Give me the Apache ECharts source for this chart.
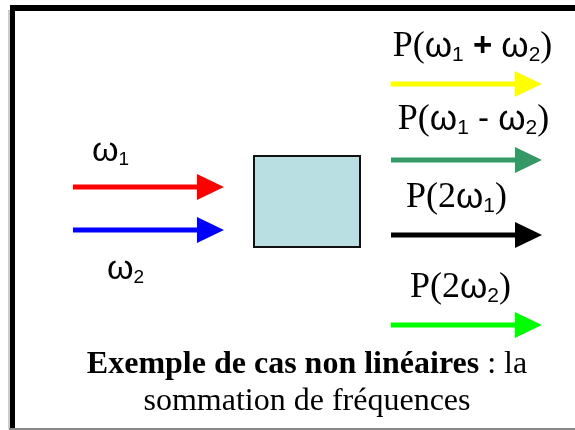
<!DOCTYPE html>
<html>
<head>
<meta charset="utf-8">
<script src="https://cdn.jsdelivr.net/npm/echarts@6/dist/echarts.min.js"></script>
<style>
  html, body { margin: 0; padding: 0; background: #fff; }
  #main { width: 575px; height: 430px; }
</style>
</head>
<body>
<div id="main"></div>
<script>
// arrows: two inputs on the left, four outputs on the right
const arrowStartX = [73, 73, 391, 391, 391, 391];
const arrowEndX = [224, 224, 542, 542, 542, 542];
const arrowY = [187, 230, 84, 160, 235, 325];
const arrowColors = ['#ff0000', '#0000ff', '#ffff00', '#339966', '#000000', '#00ff00'];
const arrowLabels = [
  '{iw|ω}{is|1}',
  '{iw|ω}{is|2}',
  '{t|P(}{w|ω}{s|1}{op| + }{w|ω}{s|2}{t|)}',
  '{t|P(}{w|ω}{s|1}{om| - }{w|ω}{s|2}{t|)}',
  '{t|P(2}{w|ω}{s|1}{t|)}',
  '{t|P(2}{w|ω}{s|2}{t|)}'
];
// the non linear block
const boxX = [254, 360];
const boxY = [156, 247];
const captionBold = 'Exemple de cas non linéaires';
const captionRest = ' : la';
const captionLine2 = 'sommation de fréquences';

// label offset from arrow middle [dx, dy]
const labelOffset = [[-38, -35], [-23, 40], [6, -37], [7, -40], [-10, -37], [-6, -37]];

const serif = "'Liberation Serif', 'Times New Roman', serif";
const sans = "'Liberation Sans', Arial, sans-serif";
const richLabel = {
  t: { fontFamily: serif, fontSize: 36, lineHeight: 42, color: '#000' },
  w: { fontFamily: sans, fontSize: 35, lineHeight: 42, color: '#000' },
  s: { fontFamily: sans, fontSize: 21, lineHeight: 21, padding: [19, 0, 0, 0], verticalAlign: 'top', color: '#000' },
  op: { fontFamily: sans, fontSize: 33, fontWeight: 'bold', lineHeight: 42, color: '#000' },
  om: { fontFamily: sans, fontSize: 33, lineHeight: 42, color: '#000' },
  iw: { fontFamily: sans, fontSize: 34, lineHeight: 40, color: '#000' },
  is: { fontFamily: sans, fontSize: 19, lineHeight: 19, padding: [18, 0, 0, 0], verticalAlign: 'top', color: '#000' }
};

const arrowData = arrowStartX.map((x, i) => [x, arrowEndX[i], arrowY[i]]);

const chart = echarts.init(document.getElementById('main'));

const option = {
  animation: false,
  backgroundColor: '#fff',
  grid: { left: 0, right: 0, top: 0, bottom: 0 },
  xAxis: { type: 'value', min: 0, max: 575, show: false },
  yAxis: { type: 'value', min: 0, max: 430, inverse: true, show: false },
  graphic: [
    // frame around the slide
    { type: 'line', shape: { x1: 9, y1: 10, x2: 9, y2: 429 }, style: { stroke: '#999', lineWidth: 1 } },
    { type: 'line', shape: { x1: 9, y1: 429, x2: 575, y2: 429 }, style: { stroke: '#888', lineWidth: 2 } },
    { type: 'line', shape: { x1: 12.5, y1: 5, x2: 12.5, y2: 428 }, style: { stroke: '#000', lineWidth: 5 } },
    { type: 'line', shape: { x1: 10, y1: 8, x2: 575, y2: 8 }, style: { stroke: '#000', lineWidth: 6 } },
    {
      type: 'text', x: 307, y: 365,
      style: {
        text: '{b|' + captionBold + '}{n|' + captionRest + '}',
        align: 'center', verticalAlign: 'middle',
        rich: {
          b: { fontFamily: serif, fontSize: 32, fontWeight: 'bold', color: '#000' },
          n: { fontFamily: serif, fontSize: 32, color: '#000' }
        }
      }
    },
    {
      type: 'text', x: 307, y: 402,
      style: { text: captionLine2, align: 'center', verticalAlign: 'middle', fontFamily: serif, fontSize: 32, fill: '#000' }
    }
  ],
  series: [
    {
      type: 'custom',
      data: [[boxX[0], boxY[0], boxX[1], boxY[1]]],
      renderItem: function (params, api) {
        const a = api.coord([api.value(0), api.value(1)]);
        const b = api.coord([api.value(2), api.value(3)]);
        return {
          type: 'rect',
          shape: { x: a[0], y: a[1], width: b[0] - a[0], height: b[1] - a[1] },
          style: { fill: '#b9dfe2', stroke: '#111', lineWidth: 2 }
        };
      }
    },
    {
      type: 'custom',
      data: arrowData,
      renderItem: function (params, api) {
        const i = params.dataIndex;
        const p0 = api.coord([api.value(0), api.value(2)]);
        const p1 = api.coord([api.value(1), api.value(2)]);
        const headLen = 27, headHalf = 13;
        const color = arrowColors[i];
        const off = labelOffset[i];
        return {
          type: 'group',
          children: [
            {
              type: 'line',
              shape: { x1: p0[0], y1: p0[1], x2: p1[0] - headLen + 2, y2: p1[1] },
              style: { stroke: color, lineWidth: 5 }
            },
            {
              type: 'polygon',
              shape: { points: [[p1[0] - headLen, p1[1] - headHalf], [p1[0], p1[1]], [p1[0] - headLen, p1[1] + headHalf]] },
              style: { fill: color }
            },
            {
              type: 'text',
              x: (p0[0] + p1[0]) / 2 + off[0],
              y: p0[1] + off[1],
              style: { text: arrowLabels[i], rich: richLabel, align: 'center', verticalAlign: 'middle' }
            }
          ]
        };
      }
    }
  ]
};

chart.setOption(option);
</script>
</body>
</html>
